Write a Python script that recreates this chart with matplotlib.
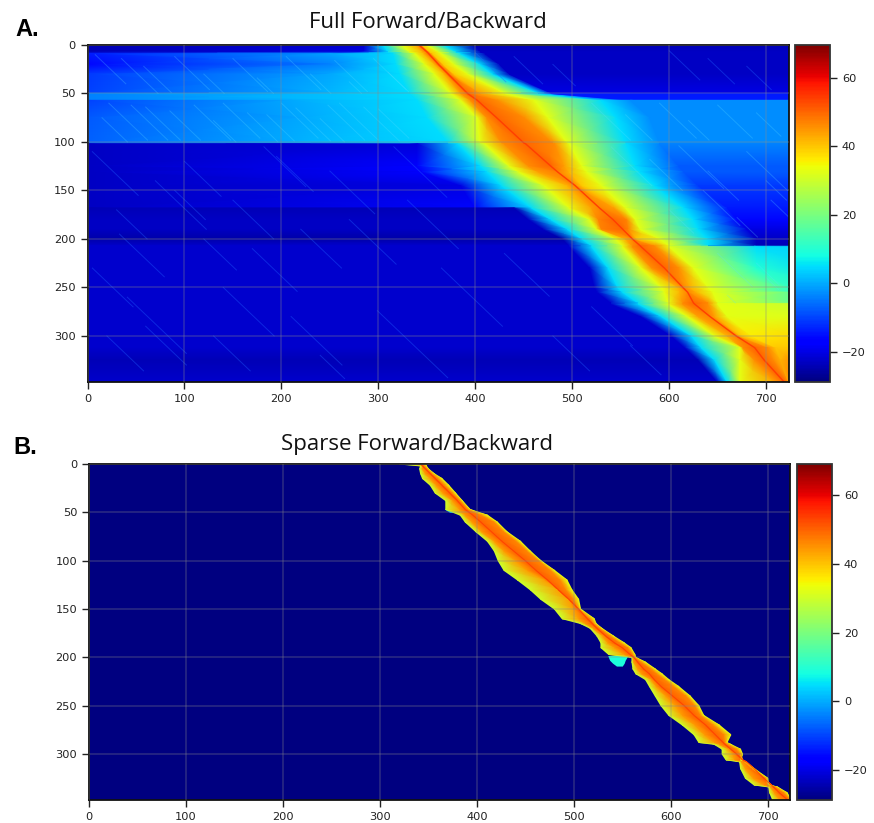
#!/usr/bin/env python3
"""Full vs sparse forward/backward heatmaps, read off the figure by eye."""
import numpy as np
import matplotlib
matplotlib.use("Agg")
import matplotlib.pyplot as plt
from matplotlib.cm import ScalarMappable
from matplotlib.colors import Normalize

# panel A: one entry per row, x = where the colour band changes level
a_y = [0, 7, 9, 20, 30, 49, 50, 57, 57, 75, 101, 102, 125, 131, 145, 168, 168, 180, 190, 200, 207, 208, 230, 250, 255, 255, 266, 267, 280, 300, 312, 325, 348]
a_lb = [285, 285, 250, 250, 250, 250, 250, 250, 210, 220, 230, 340, 340, 345, 385, 400, 440, 455, 470, 490, 497, 497, 518, 523, 526, 526, 540, 540, 571, 602, 616, 630, 650]
a_lc = [305, 310, 315, 318, 322, 331, 332, 340, 340, 350, 372, 382, 405, 412, 427, 458, 458, 478, 495, 510, 520, 520, 537, 547, 552, 552, 568, 568, 592, 623, 633, 647, 660]
a_ly = [325, 332, 338, 348, 358, 374, 375, 385, 385, 402, 405, 410, 435, 445, 471, 497, 497, 518, 525, 545, 552, 552, 571, 592, 595, 595, 599, 599, 619, 647, 673, 673, 673]
a_lo = [338, 345, 347, 358, 368, 384, 385, 395, 395, 412, 427, 430, 455, 465, 495, 520, 520, 527, 530, 555, 562, 562, 582, 609, 611, 611, 614, 614, 630, 660, 676, 688, 709]
ridge = [342, 350, 352, 362, 372, 391, 392, 402, 402, 422, 450, 452, 478, 485, 503, 528, 528, 542, 552, 562, 570, 571, 595, 614, 619, 619, 625, 626, 642, 669, 688, 698, 719]
a_ro = [345, 353, 356, 367, 378, 404, 405, 423, 423, 451, 480, 482, 492, 497, 510, 543, 543, 556, 558, 567, 585, 586, 610, 622, 628, 628, 640, 640, 647, 674, 702, 708, 722]
a_ry = [350, 362, 365, 378, 392, 429, 430, 461, 461, 475, 495, 497, 510, 515, 530, 555, 555, 565, 570, 590, 600, 600, 625, 640, 645, 645, 650, 650, 660, 685, 710, 715, 723]
a_rc = [368, 380, 385, 405, 418, 464, 465, 530, 530, 545, 555, 556, 565, 570, 585, 615, 615, 625, 630, 640, 640, 690, 690, 724, 724, 724, 724, 724, 724, 724, 724, 724, 724]
a_rb = [400, 405, 410, 425, 435, 477, 478, 560, 560, 580, 590, 590, 610, 615, 630, 660, 660, 670, 680, 690, 690, 730, 760, 760, 760, 760, 760, 760, 760, 760, 760, 760, 760]
a_val_left = [-24, -24, -14, -16, -11, -10, -4, -4, -10, -8, -7, -23, -23, -23, -23, -23, -24, -23, -23, -25, -22, -22, -22, -22, -22, -22, -22, -22, -22, -22, -22, -24, -22]
a_val_lb = [-22, -20, -1, -4, 0, 1, 2, 2, 0, 0, 1, -21, -17, -17, -20, -16, -24, -23, -23, -25, -22, -22, -22, -22, -22, -22, -22, -22, -22, -22, -22, -24, -22]
a_val_ry = [33, 33, 33, 33, 33, 33, 33, 33, 33, 33, 33, 33, 33, 33, 33, 33, 33, 33, 33, 33, 33, 33, 33, 33, 33, 33, 33, 33, 33, 36, 40, 42, 44]
a_val_rc = [5, 5, 5, 5, 5, 5, 5, 5, 5, 5, 5, 5, 5, 5, 5, 5, 5, 5, 5, 5, 5, 5, 10, 12, 12, 18, 18, 30, 32, 38, 40, 45, 48]
a_val_rb = [-24, -23, -23, -23, -23, -20, -14, -14, -3, -3, -3, -4, -8, -8, -11, -14, -14, -16, -20, -23, -24, 4, 4, 12, 12, 18, 18, 30, 32, 38, 40, 45, 48]
a_val_lo = [42, 42, 42, 42, 42, 44, 44, 46, 46, 46, 46, 46, 46, 44, 42, 44, 44, 47, 47, 42, 46, 46, 46, 42, 42, 42, 46, 46, 44, 42, 46, 46, 44]
a_val_peak = [50, 50, 50, 50, 50, 50, 50, 50, 50, 50, 50, 50, 50, 48, 47, 47, 47, 50, 50, 47, 50, 50, 50, 47, 47, 47, 50, 50, 47, 47, 50, 50, 50]
a_val_ro = [40, 40, 40, 40, 40, 44, 44, 46, 46, 46, 46, 46, 44, 42, 40, 44, 44, 47, 47, 40, 46, 46, 46, 42, 42, 42, 46, 46, 44, 40, 46, 46, 48]

# faint diagonal streaks: start x, start y, drop in y
top_x0 = [8, 35, 58, 22, 90, 120, 150, 175, 140, 205, 230, 255, 200, 270, 295, 248, 310, 60, 110, 165, 215, 260, 300, 15, 45, 85, 130, 185, 240, 285]
top_y0 = [10, 14, 22, 60, 12, 30, 14, 34, 60, 12, 30, 16, 60, 38, 14, 62, 28, 64, 62, 70, 65, 60, 66, 75, 62, 68, 78, 72, 76, 64]
top_dy = [30, 36, 27, 38, 34, 20, 34, 16, 36, 34, 20, 32, 36, 12, 32, 36, 20, 34, 36, 30, 34, 38, 30, 25, 36, 30, 22, 27, 24, 35]
right_x0 = [520, 555, 590, 620, 650, 690, 540, 580, 610, 640, 680, 700, 600, 635, 670, 705, 650, 690, 660, 700]
right_y0 = [60, 72, 60, 78, 62, 70, 105, 118, 104, 130, 110, 140, 170, 150, 178, 160, 215, 225, 258, 240]
right_dy = [38, 26, 36, 20, 34, 24, 40, 32, 44, 30, 40, 20, 24, 36, 20, 30, 34, 22, 8, 12]
bot_x0 = [5, 30, 33, 41, 100, 140, 182, 220, 250, 299, 316, 365, 60, 90, 130, 170, 210, 270, 20, 70, 150, 240, 400, 440, 480, 600, 640, 680, 5, 120, 195, 330, 430, 520, 480, 560]
bot_y0 = [110, 170, 195, 260, 120, 250, 105, 190, 130, 274, 105, 230, 290, 150, 300, 210, 280, 180, 300, 140, 160, 320, 8, 12, 20, 6, 14, 22, 230, 200, 115, 160, 215, 270, 300, 310]
bot_dy = [45, 30, 44, 58, 36, 50, 41, 40, 44, 69, 52, 60, 40, 30, 36, 44, 50, 46, 36, 50, 40, 24, 30, 28, 22, 30, 26, 24, 40, 32, 36, 50, 44, 40, 36, 30]

# panel B: envelope of the kept cells per row, cut-offs show as repeated rows
b_y = [0, 2, 5, 10, 15, 22, 30, 38, 47, 53, 60, 70, 80, 90, 100, 110, 120, 130, 140, 150, 160, 165, 170, 178, 185, 190, 197, 200, 205, 212, 217, 223, 230, 240, 250, 260, 270, 280, 288, 290, 295, 300, 306, 308, 315, 325, 332, 334, 340, 347]
b_l = [320, 342, 341, 342, 344, 352, 357, 368, 368, 383, 388, 399, 411, 418, 422, 428, 442, 455, 466, 480, 488, 507, 517, 524, 528, 528, 536, 560, 560, 561, 564, 574, 578, 584, 590, 598, 612, 624, 629, 645, 653, 653, 657, 671, 672, 677, 686, 701, 702, 705]
b_lo = [340, 344, 344, 347, 352, 358, 365, 375, 382, 388, 395, 405, 418, 428, 440, 452, 470, 485, 495, 500, 505, 512, 520, 530, 535, 542, 552, 561, 562, 566, 570, 580, 585, 595, 605, 612, 625, 635, 645, 650, 660, 664, 666, 673, 677, 685, 696, 703, 707, 712]
b_ridge = [342, 344, 347, 352, 357, 364, 372, 380, 388, 396, 404, 415, 426, 438, 450, 461, 473, 484, 495, 505, 514, 519, 524, 533, 542, 550, 558, 562, 566, 572, 578, 583, 590, 602, 614, 624, 636, 646, 654, 656, 662, 668, 674, 678, 686, 696, 704, 706, 712, 720]
b_ro = [344, 346, 349, 354, 360, 367, 375, 383, 391, 405, 418, 428, 441, 452, 464, 476, 486, 492, 500, 505, 517, 521, 527, 538, 548, 556, 561, 563, 570, 580, 586, 594, 603, 616, 625, 631, 644, 655, 656, 659, 668, 672, 674, 676, 684, 698, 700, 708, 717, 723]
b_r = [347, 348, 350, 356, 364, 371, 378, 385, 393, 411, 421, 431, 445, 455, 466, 480, 493, 498, 505, 507, 521, 523, 529, 541, 552, 559, 563, 564, 574, 584, 591, 598, 608, 620, 629, 634, 650, 662, 658, 662, 672, 674, 672, 676, 686, 700, 701, 710, 720, 724]

# cyan tips that sit outside the main envelope in panel B
b_tip_y = [198, 203, 206, 209]
b_tip_l = [535, 537, 540, 544]
b_tip_r = [556, 553, 552, 550]
b_tip2_y = [42, 47, 50]
b_tip2_l = [370, 367, 372]
b_tip2_r = [375, 378, 382]

x_ticks = [0, 100, 200, 300, 400, 500, 600, 700]
y_ticks = [0, 50, 100, 150, 200, 250, 300]
cbar_ticks = [-20, 0, 20, 40, 60]
a_range = (-28.8, 69.6)
b_range = (-28.7, 69)
W, H = 874, 823


def px_axes(fig, left, top, right, bottom):
    return fig.add_axes([left / W, 1 - bottom / H, (right - left) / W, (bottom - top) / H])


def style_axes(ax):
    ax.set_xlim(0, 723)
    ax.set_ylim(347.5, 0)
    ax.set_xticks(x_ticks)
    ax.set_yticks(y_ticks)
    ax.tick_params(labelsize=8.2, length=5, width=1, colors="#222222")
    ax.grid(color="#8a8a8a", alpha=0.32, linewidth=1.1)
    ax.set_axisbelow(False)
    for s in ax.spines.values():
        s.set_linewidth(1.3)
        s.set_color("#111111")


def add_cbar(fig, cax, vmin, vmax):
    sm = ScalarMappable(norm=Normalize(vmin, vmax), cmap="jet")
    cb = fig.colorbar(sm, cax=cax)
    cb.set_ticks(cbar_ticks)
    cb.ax.tick_params(labelsize=8.2, length=5, width=1, colors="#222222")
    cb.outline.set_linewidth(1.3)
    cb.outline.set_edgecolor("#333333")


def draw_streaks(ax, xs, ys, dys, color, alpha):
    for x0, y0, dy in zip(xs, ys, dys):
        ax.plot([x0, x0 + 1.05 * dy], [y0, y0 + dy], color=color, alpha=alpha, lw=0.7)


fig = plt.figure(figsize=(W / 100, H / 100), dpi=100)

# A
ax_a = px_axes(fig, 87.5, 45, 788.5, 382)
n = len(a_y)
a_x = np.column_stack([np.zeros(n), a_lb, a_lc, a_ly, a_lo, ridge, a_ro, a_ry, a_rc, a_rb, np.full(n, 800)])
a_c = np.column_stack([a_val_left, a_val_lb, np.full(n, 5), np.full(n, 33), a_val_lo, a_val_peak,
                       a_val_ro, a_val_ry, a_val_rc, a_val_rb, a_val_rb])
a_grid_y = np.tile(np.array(a_y, dtype=float)[:, None], (1, a_x.shape[1]))
ax_a.pcolormesh(a_x, a_grid_y, a_c, shading="gouraud", cmap="jet", vmin=a_range[0], vmax=a_range[1])
draw_streaks(ax_a, top_x0, top_y0, top_dy, "#60e0ff", 0.25)
draw_streaks(ax_a, right_x0, right_y0, right_dy, "#60e0ff", 0.25)
draw_streaks(ax_a, bot_x0, bot_y0, bot_dy, "#2060ff", 0.4)
ax_a.plot(ridge, a_y, color=plt.cm.jet(Normalize(*a_range)(54)), lw=1)
style_axes(ax_a)
add_cbar(fig, px_axes(fig, 795, 45, 830, 382), *a_range)

# B
ax_b = px_axes(fig, 89, 464, 790, 800)
ax_b.set_facecolor(plt.cm.jet(0.0))
m = len(b_y)
b_x = np.column_stack([b_l, b_lo, b_ridge, b_ro, b_r])
b_c = np.column_stack([np.full(m, 30), np.full(m, 44), np.full(m, 50), np.full(m, 46), np.full(m, 33)])
b_grid_y = np.tile(np.array(b_y, dtype=float)[:, None], (1, 5))
ax_b.fill_betweenx(b_tip_y, b_tip_l, b_tip_r, color=plt.cm.jet(Normalize(*b_range)(9)), lw=0)
ax_b.fill_betweenx(b_tip2_y, b_tip2_l, b_tip2_r, color=plt.cm.jet(Normalize(*b_range)(3)), lw=0)
ax_b.pcolormesh(b_x, b_grid_y, b_c, shading="gouraud", cmap="jet", vmin=b_range[0], vmax=b_range[1])
ax_b.plot(b_ridge, b_y, color=plt.cm.jet(Normalize(*b_range)(53)), lw=0.7)
style_axes(ax_b)
add_cbar(fig, px_axes(fig, 797, 464, 832, 800), *b_range)

fig.text(428 / W, 1 - 23 / H, "Full Forward/Backward", ha="center", va="center", fontsize=16, family="Open Sans", color="#111111")
fig.text(417 / W, 1 - 444 / H, "Sparse Forward/Backward", ha="center", va="center", fontsize=16, family="Open Sans", color="#111111")
fig.text(15 / W, 1 - 29 / H, "A.", ha="left", va="center", fontsize=17, fontweight="bold", family="Liberation Sans")
fig.text(13 / W, 1 - 448 / H, "B.", ha="left", va="center", fontsize=17, fontweight="bold", family="Liberation Sans")

fig.savefig("out.png", dpi=100)
